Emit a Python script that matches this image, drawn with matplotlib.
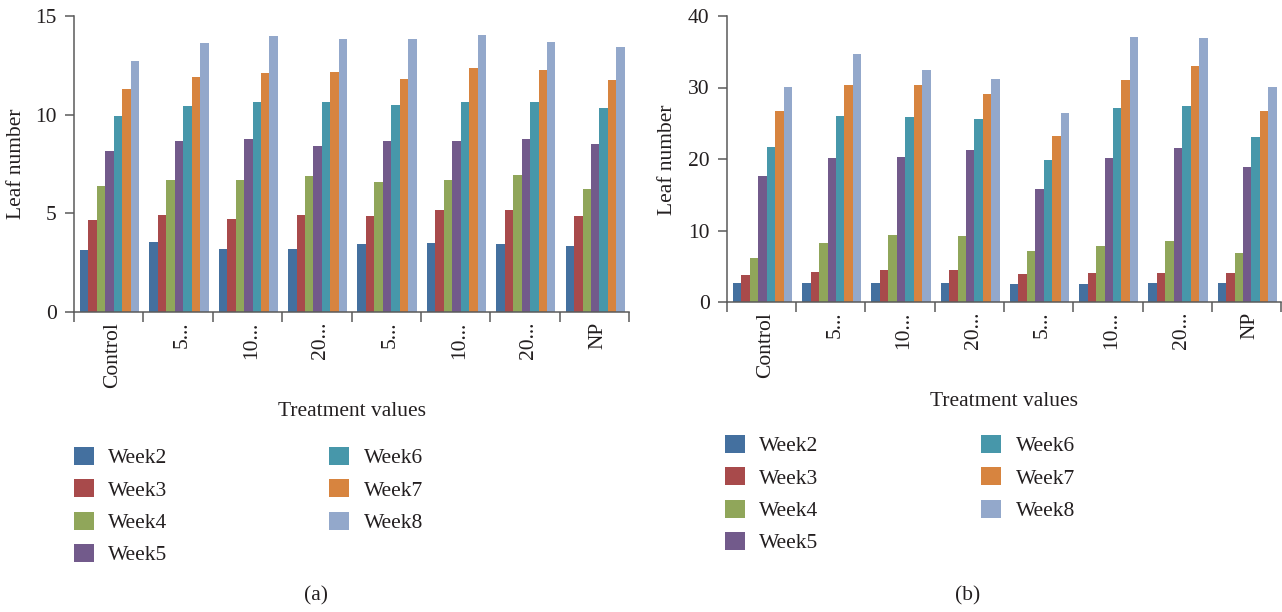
#!/usr/bin/env python3
"""Leaf number per treatment, weekly bars, two panels (a) and (b)."""

import matplotlib

matplotlib.use("Agg")
import matplotlib.pyplot as plt
import matplotlib.transforms as mtransforms
import numpy as np

plt.rcParams["font.family"] = ["Liberation Serif", "DejaVu Serif"]

TREATMENTS = ["Control", "5...", "10...", "20...", "5...", "10...", "20...", "NP"]
WEEKS = ["Week2", "Week3", "Week4", "Week5", "Week6", "Week7", "Week8"]
COLORS = ["#44709f", "#a84a4b", "#90a65a", "#725a8b", "#4797aa", "#d7843f", "#93a8cb"]

# panel (a)
A_WEEK2 = [3.14, 3.55, 3.19, 3.19, 3.45, 3.50, 3.45, 3.34]
A_WEEK3 = [4.66, 4.92, 4.71, 4.92, 4.86, 5.17, 5.17, 4.86]
A_WEEK4 = [6.39, 6.69, 6.69, 6.89, 6.59, 6.69, 6.94, 6.23]
A_WEEK5 = [8.16, 8.67, 8.77, 8.41, 8.67, 8.67, 8.77, 8.51]
A_WEEK6 = [9.93, 10.44, 10.64, 10.64, 10.49, 10.64, 10.64, 10.34]
A_WEEK7 = [11.30, 11.91, 12.11, 12.16, 11.81, 12.36, 12.26, 11.76]
A_WEEK8 = [12.72, 13.63, 13.99, 13.83, 13.83, 14.04, 13.68, 13.43]

# panel (b)
B_WEEK2 = [2.66, 2.66, 2.66, 2.66, 2.52, 2.52, 2.66, 2.66]
B_WEEK3 = [3.78, 4.20, 4.48, 4.48, 3.92, 4.06, 4.06, 4.06]
B_WEEK4 = [6.15, 8.25, 9.37, 9.23, 7.13, 7.83, 8.53, 6.85]
B_WEEK5 = [17.62, 20.14, 20.28, 21.26, 15.80, 20.14, 21.54, 18.88]
B_WEEK6 = [21.68, 26.01, 25.87, 25.59, 19.86, 27.13, 27.41, 23.08]
B_WEEK7 = [26.71, 30.35, 30.35, 29.09, 23.22, 31.05, 33.01, 26.71]
B_WEEK8 = [30.07, 34.69, 32.45, 31.19, 26.43, 37.06, 36.92, 30.07]

A_SERIES = [A_WEEK2, A_WEEK3, A_WEEK4, A_WEEK5, A_WEEK6, A_WEEK7, A_WEEK8]
B_SERIES = [B_WEEK2, B_WEEK3, B_WEEK4, B_WEEK5, B_WEEK6, B_WEEK7, B_WEEK8]

FS = 15.5
SPINE = "#5a5a5a"
TXT = "#231f20"
W, H = 1282, 612


def px(x, y):
    """Pixel position (top-left origin) -> figure fraction."""
    return x / W, 1 - y / H


def draw_panel(fig, rect, series, ymax, yticks, legend_xy, col_spacing):
    ax = fig.add_axes(rect)
    n = len(TREATMENTS)
    centers = np.arange(n) + 0.5
    width = 0.122
    for j, (vals, name, color) in enumerate(zip(series, WEEKS, COLORS)):
        ax.bar(centers + (j - 3) * width + 0.013, vals, width=width, color=color,
               label=name, linewidth=0)

    ax.set_xlim(0, n)
    ax.set_ylim(0, ymax)
    ax.set_yticks(yticks)
    ax.set_xticks(centers)
    ax.set_xticklabels(TREATMENTS, rotation=90, va="top", ha="center")
    ax.set_xticks(np.arange(n + 1), minor=True)
    ax.tick_params(axis="x", which="major", length=0, pad=7, labelsize=FS, colors=TXT)
    ax.tick_params(axis="x", which="minor", length=7, width=1.1, color=SPINE)
    ax.tick_params(axis="y", length=6.5, width=1.1, color=SPINE, pad=6,
                   labelsize=FS, labelcolor=TXT)

    # labels sit a bit right of the group centre in the original
    shift = mtransforms.ScaledTranslation(4 / 100, 0, fig.dpi_scale_trans)
    for lab in ax.get_xticklabels():
        lab.set_transform(lab.get_transform() + shift)

    for side in ("top", "right"):
        ax.spines[side].set_visible(False)
    for side in ("left", "bottom"):
        ax.spines[side].set_color(SPINE)
        ax.spines[side].set_linewidth(1.1)

    ax.legend(loc="upper left", bbox_to_anchor=px(*legend_xy), bbox_transform=fig.transFigure,
              ncol=2, frameon=False, fontsize=FS, borderpad=0, borderaxespad=0,
              handlelength=0.92, handleheight=0.92, handletextpad=0.68,
              labelspacing=0.5, columnspacing=col_spacing, labelcolor=TXT)
    return ax


fig = plt.figure(figsize=(W / 100, H / 100), dpi=100)
fig.patch.set_facecolor("white")

draw_panel(fig, [74 / W, 1 - 312 / H, 555 / W, 296 / H], A_SERIES, 15, [0, 5, 10, 15],
           (74, 447), 7.5)
draw_panel(fig, [727 / W, 1 - 302 / H, 554 / W, 286 / H], B_SERIES, 40, [0, 10, 20, 30, 40],
           (725, 435), 7.55)

for (x, y), txt in [((352, 412), "Treatment values"), ((1004, 402), "Treatment values"),
                    ((316, 596), "(a)"), ((968, 596), "(b)")]:
    fig.text(*px(x, y), txt, ha="center", va="center", fontsize=FS, color=TXT)
for (x, y) in [(17, 164), (668, 160)]:
    fig.text(*px(x, y), "Leaf number", ha="center", va="center", rotation=90,
             fontsize=FS, color=TXT)

fig.savefig("out.png", dpi=100)
